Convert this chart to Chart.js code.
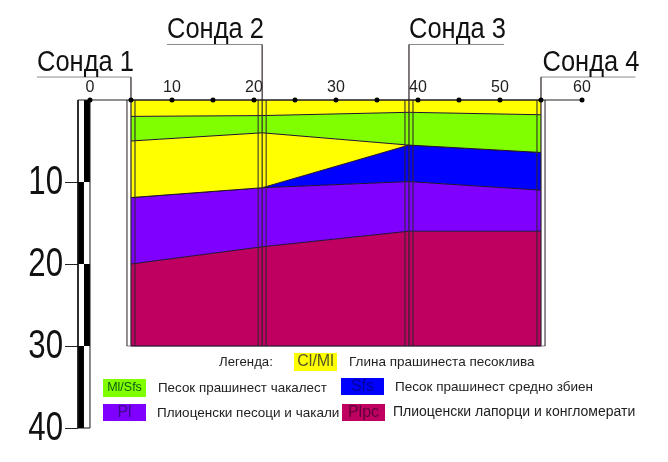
<!DOCTYPE html>
<html>
<head>
<meta charset="utf-8">
<script src="https://cdn.jsdelivr.net/npm/chart.js@4"></script>
<style>
  html, body { margin: 0; padding: 0; background: #fff; }
  canvas { display: block; }
</style>
</head>
<body>
<canvas id="profileChart" width="668" height="462"></canvas>
<script>
// Borehole positions along the profile (m) and layer boundaries (depth, m)
const sondeNames = ['Сонда 1', 'Сонда 2', 'Сонда 3', 'Сонда 4'];
const sondeX = [5, 21, 38.9, 55];
const groundTop = [0, 0, 0, 0];
const clayBase = [2.0, 1.9, 1.5, 1.8];
const gravelSandBase = [5.0, 4.0, 5.5, 6.4];
const lowerClayBase = [11.9, 10.7, 5.5, 6.4];
const denseSandBase = [11.9, 10.7, 9.95, 11.0];
const plioceneSandBase = [20.0, 17.9, 16.0, 16.0];
const marlBase = [30, 30, 30, 30];

const xTicks = [0, 10, 20, 30, 40, 50, 60];
const xDots = [0, 5, 10, 15, 20, 25, 30, 35, 40, 45, 50, 55, 60];
const yTicks = [10, 20, 30, 40];

// Leader lines above each borehole: where the label rule ends and its height
const sondeRuleEnd = [-6.46, 9.39, 50.5, 66.5];
const sondeRuleDepth = [-2.8, -6.77, -6.77, -2.8];

const legendCodes = ['Cl/Ml', 'Ml/Sfs', 'Sfs', 'Pl', 'Plpc'];
const legendTexts = [
    'Глина прашинеста песоклива',
    'Песок прашинест чакалест',
    'Песок прашинест средно збиен',
    'Плиоценски песоци и чакали',
    'Плиоценски лапорци и конгломерати'
];
const legendTitle = 'Легенда:';

const SANS = '"Liberation Sans", Arial, sans-serif';

const YELLOW = '#ffff00', GREEN = '#80ff00', BLUE = '#0000ff', PURPLE = '#8000ff', MAGENTA = '#bf0060';

// swatch box, text colour and description position, in page pixels
const legendLayout = [
    { box: [294, 353, 43, 18], fill: YELLOW, ink: '#55552a', size: 16, textX: 349, textY: 362, textSize: 13.5 },
    { box: [103, 379, 43, 18], fill: GREEN, ink: '#0f5a10', size: 12.5, textX: 158, textY: 388, textSize: 13.4 },
    { box: [341, 378, 43, 17], fill: BLUE, ink: '#00009a', size: 16, textX: 395, textY: 387, textSize: 13.5 },
    { box: [103, 404, 43, 17], fill: PURPLE, ink: '#3a0a8a', size: 16, textX: 157, textY: 413, textSize: 13.5 },
    { box: [342, 404, 43, 17], fill: MAGENTA, ink: '#5e0038', size: 16, textX: 393, textY: 412, textSize: 14 }
];

function boundary(depths, fillColor) {
    return {
        data: sondeX.map((x, i) => ({ x: x, y: depths[i] })),
        order: 10,
        borderColor: '#201030',
        borderWidth: 1,
        pointRadius: 0,
        tension: 0,
        backgroundColor: fillColor || 'transparent',
        fill: fillColor ? '-1' : false
    };
}

function line(points, color, width, order) {
    return {
        data: points,
        order: order,
        borderColor: color,
        borderWidth: width,
        borderCapStyle: 'butt',
        pointRadius: 0,
        tension: 0,
        fill: false
    };
}

const datasets = [
    boundary(groundTop),
    boundary(clayBase, YELLOW),
    boundary(gravelSandBase, GREEN),
    boundary(lowerClayBase, YELLOW),
    boundary(denseSandBase, BLUE),
    boundary(plioceneSandBase, PURPLE),
    boundary(marlBase, MAGENTA)
];

// Borehole columns: centre line plus a side line either side
sondeX.forEach((x, i) => {
    const depth = marlBase[i];
    datasets.push(line([{ x: sondeRuleEnd[i], y: sondeRuleDepth[i] }, { x: x, y: sondeRuleDepth[i] }, { x: x, y: depth }], 'rgba(50,40,50,0.55)', 1, 5));
    datasets.push(line([{ x: x - 0.49, y: 0 }, { x: x - 0.49, y: depth }], 'rgba(50,40,50,0.45)', 1, 5));
    datasets.push(line([{ x: x + 0.49, y: 0 }, { x: x + 0.49, y: depth }], 'rgba(50,40,50,0.45)', 1, 5));
});
datasets.push(line([{ x: 4.5, y: 30 }, { x: 55.5, y: 30 }], 'rgba(60,30,60,0.6)', 1, 5));

// Depth bar at the left: outline and alternating black blocks
datasets.push(line([{ x: -1.46, y: 0 }, { x: -1.46, y: 40 }, { x: 0, y: 40 }, { x: 0, y: 0 }], '#111', 1, 4));
datasets.push(line([{ x: -0.36, y: 0 }, { x: -0.36, y: 10 }], '#000', 6, 4));
datasets.push(line([{ x: -1.1, y: 10 }, { x: -1.1, y: 20 }], '#000', 6, 4));
datasets.push(line([{ x: -0.36, y: 20 }, { x: -0.36, y: 30 }], '#000', 6, 4));
datasets.push(line([{ x: -1.1, y: 30 }, { x: -1.1, y: 40 }], '#000', 6, 4));

// Distance axis line with its dots
datasets.push(line([{ x: -1.46, y: 0 }, { x: 60, y: 0 }], '#222', 1.2, 1));
datasets.push({
    data: xDots.map(x => ({ x: x, y: 0 })),
    order: 0,
    showLine: false,
    pointRadius: 2.5,
    pointBackgroundColor: '#000',
    pointBorderWidth: 0
});

// The big labels are a condensed face in the original, so squeeze them sideways
function narrowText(c, text, x, y, squeeze) {
    c.save();
    c.translate(x, y);
    c.scale(squeeze, 1);
    c.fillText(text, 0, 0);
    c.restore();
}

const textPlugin = {
    id: 'profileText',
    afterDatasetsDraw(chart) {
        const c = chart.ctx;
        const xs = chart.scales.x, ys = chart.scales.y;
        c.save();

        c.font = '30px ' + SANS;
        c.fillStyle = '#111';
        c.textAlign = 'left';
        c.textBaseline = 'alphabetic';
        sondeNames.forEach((name, i) => {
            const left = Math.min(sondeRuleEnd[i], sondeX[i]);
            narrowText(c, name, xs.getPixelForValue(left) + (i === 3 ? 1.5 : 0), ys.getPixelForValue(sondeRuleDepth[i]) - 6, 0.85);
        });

        c.font = '40px ' + SANS;
        c.textAlign = 'right';
        c.textBaseline = 'middle';
        yTicks.forEach(v => {
            narrowText(c, String(v), 63, ys.getPixelForValue(v) + 1, 0.78);
        });

        c.textAlign = 'left';
        c.font = '13.2px ' + SANS;
        c.fillStyle = '#222';
        c.fillText(legendTitle, 219, 362);

        legendCodes.forEach((code, i) => {
            const l = legendLayout[i];
            c.fillStyle = l.fill;
            c.fillRect(l.box[0], l.box[1], l.box[2], l.box[3]);
            c.fillStyle = l.ink;
            c.font = l.size + 'px ' + SANS;
            c.textAlign = 'center';
            c.fillText(code, l.box[0] + l.box[2] / 2, l.box[1] + l.box[3] / 2);
            c.fillStyle = '#222';
            c.font = l.textSize + 'px ' + SANS;
            c.textAlign = 'left';
            c.fillText(legendTexts[i], l.textX, l.textY);
        });
        c.restore();
    }
};

const ctx = document.getElementById('profileChart').getContext('2d');
new Chart(ctx, {
    type: 'line',
    data: { datasets: datasets },
    plugins: [textPlugin],
    options: {
        responsive: false,
        animation: false,
        clip: false,
        layout: { padding: { left: 0, top: 0, right: 86, bottom: 34 } },
        plugins: { legend: { display: false }, tooltip: { enabled: false } },
        scales: {
            x: {
                type: 'linear',
                position: 'top',
                min: -1.46,
                max: 60,
                afterFit(scale) { scale.height = 100; },
                afterBuildTicks(scale) { scale.ticks = xTicks.map(v => ({ value: v })); },
                border: { display: false },
                grid: { display: false, drawTicks: false },
                ticks: {
                    autoSkip: false,
                    maxRotation: 0,
                    padding: 3,
                    color: '#222',
                    font: { family: SANS, size: 16 },
                    callback: v => v
                }
            },
            y: {
                type: 'linear',
                position: 'left',
                reverse: true,
                min: 0,
                max: 40,
                afterFit(scale) { scale.width = 78; },
                afterBuildTicks(scale) { scale.ticks = yTicks.map(v => ({ value: v })); },
                border: { display: false },
                grid: { drawOnChartArea: false, tickLength: 13, color: '#222', tickWidth: 1 },
                ticks: {
                    autoSkip: false,
                    padding: 2,
                    color: 'transparent',
                    font: { family: SANS, size: 40 },
                    callback: v => v
                }
            }
        }
    }
});
</script>
</body>
</html>
